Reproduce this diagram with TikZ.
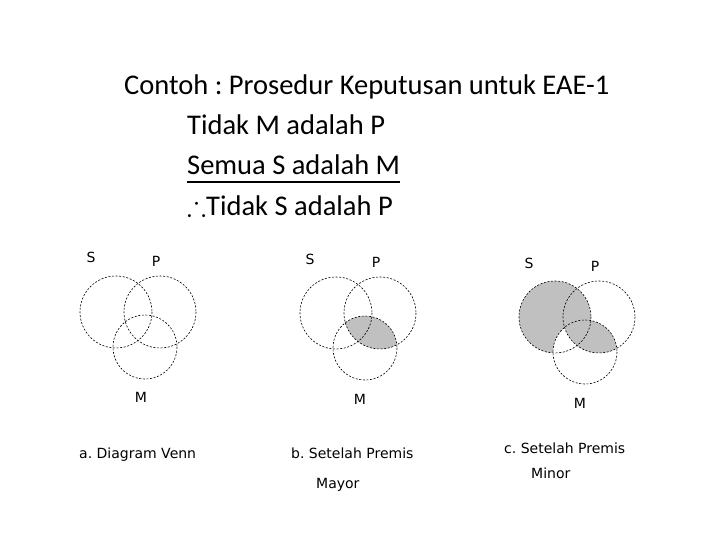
\documentclass[tikz,border=0pt]{standalone}
\usepackage{amssymb}
\usepackage{fontspec}
\setmainfont{Carlito}
\newfontfamily\labelfont{DejaVu Sans}
\frenchspacing
\definecolor{shadegray}{RGB}{192,192,192}
\tikzset{
    venn/.style = {dash pattern=on 2pt off 1.6pt, line width=0.6pt},
    title/.style = {anchor=base west, inner sep=0, font=\fontsize{28.5}{34}\selectfont},
    caption/.style = {anchor=base west, inner sep=0, font=\labelfont\fontsize{14}{16}\selectfont},
    setname/.style = {inner sep=0, font=\labelfont\fontsize{14}{16}\selectfont},
}
\begin{document}
\begin{tikzpicture}[x=1pt, y=-1pt]
        \fill[white] (0, 0) rectangle (720, 540);
        \useasboundingbox (0, 0) rectangle (720, 540);
        % Kopf
        \node[title] (judul) at (124, 95) {Contoh : Prosedur Keputusan untuk EAE-1};
        \node[title] (mayor) at (187, 135) {Tidak M adalah P};
        \node[title] (minor) at (187, 175) {Semua S adalah M};
        \draw[line width=1.6pt] ([yshift=-7pt]minor.base west) -- ([yshift=-7pt]minor.base east);
        \node[title] (simpulan) at (187, 215) {$\therefore$Tidak S adalah P};
        % Mittelpunkte der Kreise
        \coordinate (s1) at (116, 312);
        \coordinate (p1) at (160, 312);
        \coordinate (m1) at (145, 347);
        \coordinate (s2) at (336, 313);
        \coordinate (p2) at (380, 313);
        \coordinate (m2) at (365, 348);
        \coordinate (s3) at (555, 317);
        \coordinate (p3) at (599, 317);
        \coordinate (m3) at (585, 352);
        % b. Premis Mayor: P und M
        \begin{scope}
            \clip (p2) circle [radius = 36];
            \fill[shadegray] (m2) circle [radius = 32];
        \end{scope}
        % c. Premis Minor
        \begin{scope}
            \clip (s3) circle [radius = 36];
            \fill[shadegray] (s3) circle [radius = 36];
            \clip (m3) circle [radius = 32];
            \fill[white] (m3) circle [radius = 32];
        \end{scope}
        \begin{scope}
            \clip (p3) circle [radius = 36];
            \fill[shadegray] (m3) circle [radius = 32];
        \end{scope}
        % Kreise
        \foreach \i in {1, 2, 3} {
            \draw[venn] (s\i) circle [radius = 36];
            \draw[venn] (p\i) circle [radius = 36];
            \draw[venn] (m\i) circle [radius = 32];
        }
        % Namen der Mengen
        \node[setname] (ls1) at (91, 257) {S};
        \node[setname] (lp1) at (156, 261) {P};
        \node[setname] (lm1) at (141, 397) {M};
        \node[setname] (ls2) at (310, 259) {S};
        \node[setname] (lp2) at (376, 262) {P};
        \node[setname] (lm2) at (360, 399) {M};
        \node[setname] (ls3) at (529, 263) {S};
        \node[setname] (lp3) at (595, 266) {P};
        \node[setname] (lm3) at (580, 403) {M};
        % Unterschriften
        \node[caption] (ca) at (79, 458) {a. Diagram Venn};
        \node[caption] (cb) at (291, 458) {b. Setelah Premis};
        \node[caption] (cb2) at (316, 488) {Mayor};
        \node[caption] (cc) at (504, 453) {c. Setelah Premis};
        \node[caption] (cc2) at (531, 478) {Minor};
    \end{tikzpicture}
\end{document}
